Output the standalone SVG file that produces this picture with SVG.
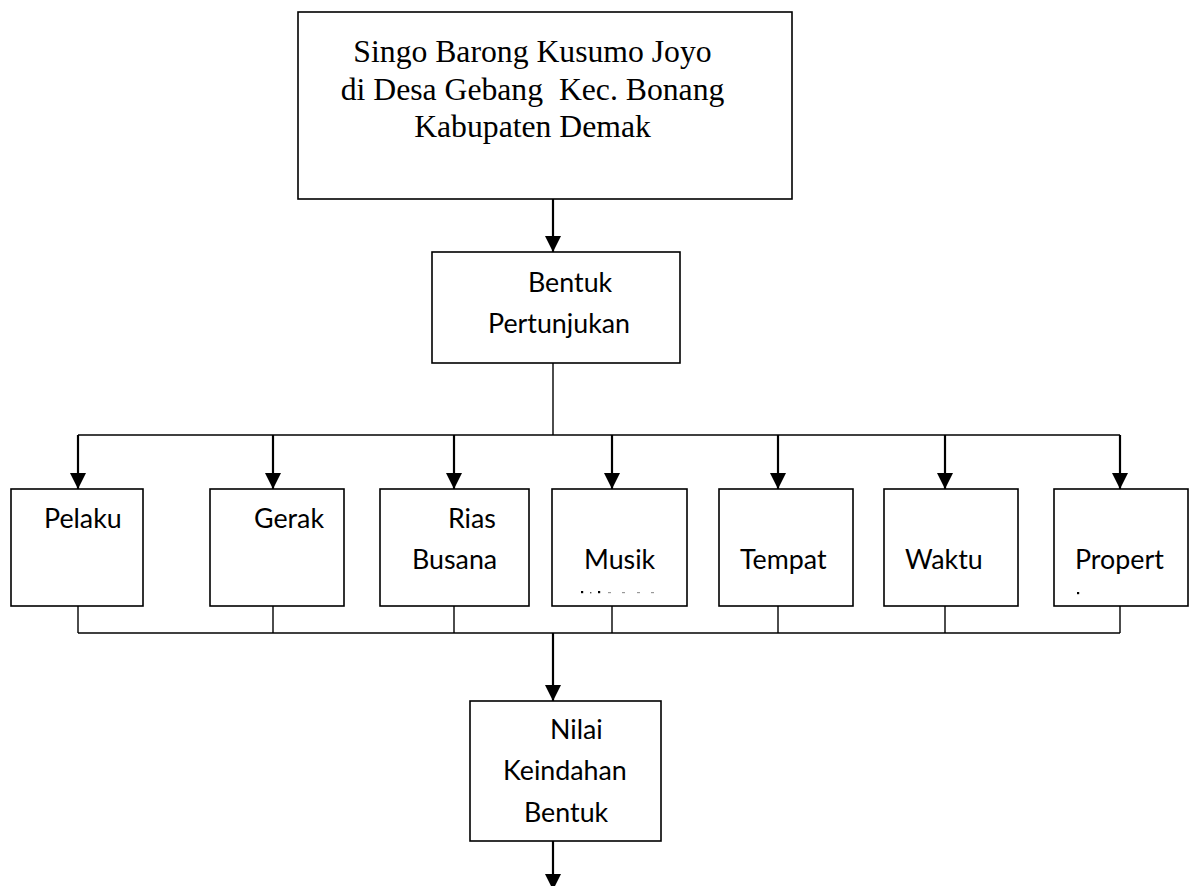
<svg xmlns="http://www.w3.org/2000/svg" width="1190" height="886" viewBox="0 0 1190 886">
  <style>
    .box { fill: #ffffff; stroke: #000000; stroke-width: 1.6; }
    .serif { font-family: "Liberation Serif", "Times New Roman", serif; font-size: 31.7px; fill: #000000; }
    .sans { font-family: Lato, "Open Sans", sans-serif; font-size: 26.8px; fill: #000000; }
    .arrow { stroke: #000000; stroke-width: 2.2; fill: none; }
    .bus { stroke: #000000; stroke-width: 1.4; fill: none; }
  </style>
  <defs>
    <marker id="ah" markerUnits="userSpaceOnUse" markerWidth="16" markerHeight="16" viewBox="0 0 16 16" refX="16" refY="8" orient="auto">
      <path d="M0,0 L16,8 L0,16 Z" fill="#000000"/>
    </marker>
  </defs>
  <rect width="1190" height="886" fill="#ffffff"/>

  <g id="connectors">
    <line class="arrow" x1="553" y1="199" x2="553" y2="252" marker-end="url(#ah)"/>
    <line class="bus" x1="553" y1="363" x2="553" y2="435"/>
    <line class="bus" x1="78" y1="435" x2="1120" y2="435"/>
    <line class="arrow" x1="78" y1="435" x2="78" y2="489" marker-end="url(#ah)"/>
    <line class="arrow" x1="273" y1="435" x2="273" y2="489" marker-end="url(#ah)"/>
    <line class="arrow" x1="454" y1="435" x2="454" y2="489" marker-end="url(#ah)"/>
    <line class="arrow" x1="612" y1="435" x2="612" y2="489" marker-end="url(#ah)"/>
    <line class="arrow" x1="778" y1="435" x2="778" y2="489" marker-end="url(#ah)"/>
    <line class="arrow" x1="945" y1="435" x2="945" y2="489" marker-end="url(#ah)"/>
    <line class="arrow" x1="1120" y1="435" x2="1120" y2="489" marker-end="url(#ah)"/>
    <line class="bus" x1="78" y1="606" x2="78" y2="633"/>
    <line class="bus" x1="273" y1="606" x2="273" y2="633"/>
    <line class="bus" x1="454" y1="606" x2="454" y2="633"/>
    <line class="bus" x1="612" y1="606" x2="612" y2="633"/>
    <line class="bus" x1="778" y1="606" x2="778" y2="633"/>
    <line class="bus" x1="945" y1="606" x2="945" y2="633"/>
    <line class="bus" x1="1120" y1="606" x2="1120" y2="633"/>
    <line class="bus" x1="78" y1="633" x2="1120" y2="633"/>
    <line class="arrow" x1="553" y1="633" x2="553" y2="701" marker-end="url(#ah)"/>
    <line class="arrow" x1="553" y1="841" x2="553" y2="890" marker-end="url(#ah)"/>
  </g>

  <g id="node-top">
    <rect class="box" x="298" y="12" width="494" height="187"/>
    <text class="serif" x="532.5" y="62" text-anchor="middle">Singo Barong Kusumo Joyo</text>
    <text class="serif" x="532.5" y="100" text-anchor="middle" xml:space="preserve">di Desa Gebang  Kec. Bonang</text>
    <text class="serif" x="532.5" y="137" text-anchor="middle">Kabupaten Demak</text>
  </g>

  <g id="node-bentuk">
    <rect class="box" x="432" y="252" width="248" height="111"/>
    <text class="sans" x="528" y="292">Bentuk</text>
    <text class="sans" x="488" y="333">Pertunjukan</text>
  </g>

  <g id="node-pelaku">
    <rect class="box" x="11" y="489" width="132" height="117"/>
    <text class="sans" x="44" y="528">Pelaku</text>
  </g>

  <g id="node-gerak">
    <rect class="box" x="210" y="489" width="134" height="117"/>
    <text class="sans" x="254" y="528">Gerak</text>
  </g>

  <g id="node-rias">
    <rect class="box" x="380" y="489" width="149" height="117"/>
    <text class="sans" x="448" y="528">Rias</text>
    <text class="sans" x="412" y="569">Busana</text>
  </g>

  <g id="node-musik">
    <rect class="box" x="552" y="489" width="135" height="117"/>
    <text class="sans" x="584" y="569">Musik</text>
    <rect x="581" y="591" width="2.2" height="2.2" fill="#000000"/>
    <rect x="590" y="592" width="1.4" height="1.4" fill="#555555"/>
    <rect x="598" y="591" width="2.2" height="2.2" fill="#000000"/>
    <rect x="608" y="592" width="3" height="1.2" fill="#999999"/>
    <rect x="622" y="592" width="3" height="1.2" fill="#999999"/>
    <rect x="637" y="592" width="3" height="1.2" fill="#999999"/>
    <rect x="651" y="592" width="3" height="1.2" fill="#999999"/>
  </g>

  <g id="node-tempat">
    <rect class="box" x="719" y="489" width="134" height="117"/>
    <text class="sans" x="740" y="569">Tempat</text>
  </g>

  <g id="node-waktu">
    <rect class="box" x="884" y="489" width="134" height="117"/>
    <text class="sans" x="905" y="569">Waktu</text>
  </g>

  <g id="node-propert">
    <rect class="box" x="1054" y="489" width="134" height="117"/>
    <text class="sans" x="1075" y="569">Propert</text>
    <rect x="1077" y="592" width="2.2" height="2.2" fill="#000000"/>
  </g>

  <g id="node-nilai">
    <rect class="box" x="470" y="701" width="191" height="140"/>
    <text class="sans" x="550" y="739">Nilai</text>
    <text class="sans" x="503" y="780">Keindahan</text>
    <text class="sans" x="524" y="822">Bentuk</text>
  </g>
</svg>
